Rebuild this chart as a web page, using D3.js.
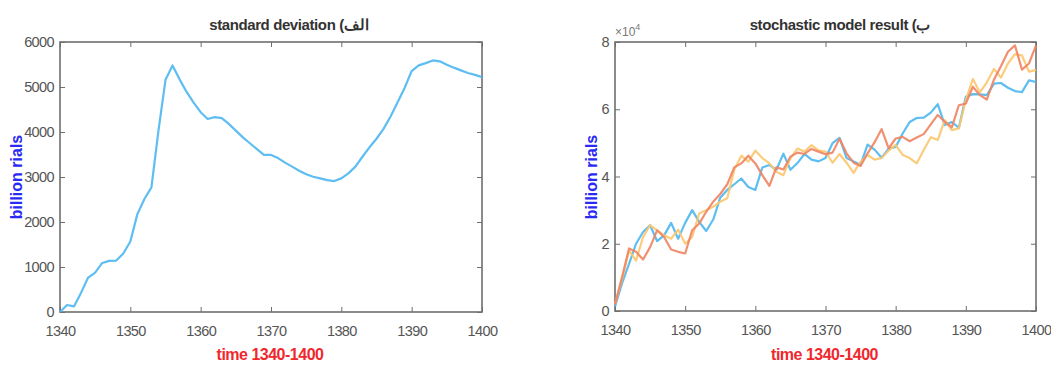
<!DOCTYPE html>
<html>
<head>
<meta charset="utf-8">
<script src="https://cdn.jsdelivr.net/npm/d3@7"></script>
<style>
  body { margin: 0; background: #fff; }
  svg text { font-family: "Liberation Sans", Arial, sans-serif; }
</style>
</head>
<body>
<script>
var years = d3.range(1340, 1401);

// left panel: standard deviation
var stdDev = [0, 156, 126, 430, 765, 876, 1090, 1136, 1143, 1300,
  1566, 2175, 2510, 2770, 4030, 5160, 5480, 5170, 4890, 4655,
  4440, 4290, 4330, 4310, 4180, 4030, 3880, 3750, 3620, 3490,
  3490, 3420, 3320, 3230, 3140, 3060, 3005, 2970, 2930, 2910,
  2970, 3080, 3230, 3450, 3660, 3850, 4070, 4345, 4660, 4980,
  5355, 5480, 5530, 5590, 5570, 5495, 5430, 5370, 5310, 5270, 5220];

// right panel: stochastic runs (x 1e4)
var runBlue = [0.13, 0.82, 1.4, 2.0, 2.35, 2.55, 2.08, 2.25, 2.62, 2.15,
  2.62, 3.0, 2.65, 2.38, 2.72, 3.37, 3.6, 3.77, 3.94, 3.69,
  3.6, 4.27, 4.34, 4.2, 4.68, 4.2, 4.4, 4.67, 4.5, 4.45,
  4.55, 4.99, 5.15, 4.55, 4.45, 4.35, 4.95, 4.8, 4.56, 4.83,
  4.88, 5.28, 5.62, 5.74, 5.75, 5.9, 6.15, 5.53, 5.62, 5.45,
  6.37, 6.45, 6.44, 6.42, 6.76, 6.78, 6.64, 6.54, 6.51, 6.86, 6.81];
var runYellow = [0.2, 0.95, 1.8, 1.5, 2.2, 2.55, 2.4, 2.25, 2.15, 2.42,
  2.0, 2.2, 2.9, 3.0, 3.1, 3.25, 3.35, 4.2, 4.62, 4.44,
  4.77, 4.55, 4.39, 4.14, 4.04, 4.54, 4.83, 4.74, 4.93, 4.78,
  4.74, 4.41, 4.67, 4.41, 4.11, 4.44, 4.64, 4.5, 4.55, 4.77,
  4.94, 4.64, 4.55, 4.39, 4.79, 5.17, 5.09, 5.68, 5.38, 5.43,
  6.27, 6.9, 6.5, 6.8, 7.2, 6.94, 7.36, 7.64, 7.6, 7.12, 7.17];
var runOrange = [0.2, 1.0, 1.86, 1.76, 1.53, 1.9, 2.4, 2.2, 1.83, 1.76,
  1.71, 2.4, 2.6, 2.95, 3.25, 3.48, 3.77, 4.27, 4.39, 4.62,
  4.39, 4.04, 3.72, 4.27, 4.21, 4.59, 4.71, 4.67, 4.82, 4.74,
  4.66, 4.71, 5.12, 4.69, 4.41, 4.31, 4.69, 5.02, 5.41, 4.84,
  5.13, 5.18, 5.05, 5.16, 5.26, 5.55, 5.83, 5.63, 5.46, 6.12,
  6.17, 6.67, 6.42, 6.29, 6.88, 7.28, 7.71, 7.9, 7.18, 7.36, 7.9];

var xTicks = [1340, 1350, 1360, 1370, 1380, 1390, 1400];
var leftYTicks = [0, 1000, 2000, 3000, 4000, 5000, 6000];
var rightYTicks = [0, 2, 4, 6, 8];

var svg = d3.select("body").append("svg")
  .attr("width", 1051).attr("height", 365);

function panel(opt) {
  var x = d3.scaleLinear().domain([1340, 1400]).range([opt.left, opt.right]);
  var y = d3.scaleLinear().domain(opt.yDomain).range([opt.bottom, opt.top]);
  var g = svg.append("g");
  var frame = "#6e6e6e";
  var tick = 5;

  // bottom + top ticks
  g.append("g").attr("transform", "translate(0," + opt.bottom + ")")
    .call(d3.axisBottom(x).tickValues(xTicks).tickSize(-tick).tickPadding(tick + 9).tickFormat(d3.format("d")))
    .call(function(a) {
      a.select(".domain").remove();
      a.selectAll("line").attr("stroke", frame);
      a.selectAll("text").attr("fill", "#555").attr("font-size", 14.5).attr("letter-spacing", -0.6);
    });
  g.append("g").attr("transform", "translate(0," + opt.top + ")")
    .call(d3.axisTop(x).tickValues(xTicks).tickSize(-tick).tickFormat(""))
    .call(function(a) {
      a.select(".domain").remove();
      a.selectAll("line").attr("stroke", frame);
    });
  // left + right ticks
  g.append("g").attr("transform", "translate(" + opt.left + ",0)")
    .call(d3.axisLeft(y).tickValues(opt.yTicks).tickSize(-tick).tickPadding(tick + 1).tickFormat(d3.format("d")))
    .call(function(a) {
      a.select(".domain").remove();
      a.selectAll("line").attr("stroke", frame);
      a.selectAll("text").attr("fill", "#555").attr("font-size", 14.5).attr("letter-spacing", -0.6);
    });
  g.append("g").attr("transform", "translate(" + opt.right + ",0)")
    .call(d3.axisRight(y).tickValues(opt.yTicks).tickSize(-tick).tickFormat(""))
    .call(function(a) {
      a.select(".domain").remove();
      a.selectAll("line").attr("stroke", frame);
    });

  g.append("rect")
    .attr("x", opt.left).attr("y", opt.top)
    .attr("width", opt.right - opt.left).attr("height", opt.bottom - opt.top)
    .attr("fill", "none").attr("stroke", frame).attr("stroke-width", 1.6);

  var line = d3.line().x(function(d, i) { return x(years[i]); }).y(function(d) { return y(d); });
  opt.series.forEach(function(s) {
    g.append("path").datum(s.values)
      .attr("d", line)
      .attr("fill", "none")
      .attr("stroke", s.color)
      .attr("stroke-width", 2.2)
      .attr("stroke-linejoin", "round")
      .attr("opacity", 0.9);
  });

  // title
  g.append("text")
    .attr("x", opt.titleX).attr("y", 30)
    .attr("text-anchor", "middle")
    .attr("font-size", 15).attr("font-weight", "bold").attr("fill", "#333")
    .attr("letter-spacing", -0.4)
    .attr("direction", "ltr")
    .text(opt.title);

  // axis labels
  g.append("text")
    .attr("x", (opt.left + opt.right) / 2 - 1).attr("y", 360)
    .attr("text-anchor", "middle")
    .attr("font-size", 16).attr("font-weight", "bold").attr("fill", "#f0282d")
    .attr("letter-spacing", -0.5)
    .text("time 1340-1400");
  g.append("text")
    .attr("transform", "translate(" + opt.yLabelX + ",177) rotate(-90)")
    .attr("text-anchor", "middle")
    .attr("font-size", 16).attr("font-weight", "bold").attr("fill", "#2a2af5")
    .text("billion rials");
  return g;
}

panel({
  left: 60, right: 482, top: 42, bottom: 312,
  yDomain: [0, 6000], yTicks: leftYTicks,
  series: [{ values: stdDev, color: "#4db6f0" }],
  title: "standard deviation  (الف",
  titleX: 289,
  yLabelX: 22
});

var rp = panel({
  left: 615, right: 1036, top: 42, bottom: 311,
  yDomain: [0, 8], yTicks: rightYTicks,
  series: [
    { values: runBlue, color: "#4db6f0" },
    { values: runYellow, color: "#fcc66e" },
    { values: runOrange, color: "#f08462" }
  ],
  title: "stochastic model result  (ب",
  titleX: 840,
  yLabelX: 597
});

var exp = rp.append("text").attr("x", 615).attr("y", 36)
  .attr("font-size", 12).attr("fill", "#777");
exp.append("tspan").text("\u00d710");
exp.append("tspan").attr("dy", -6).attr("font-size", 9).text("4");
</script>
</body>
</html>
